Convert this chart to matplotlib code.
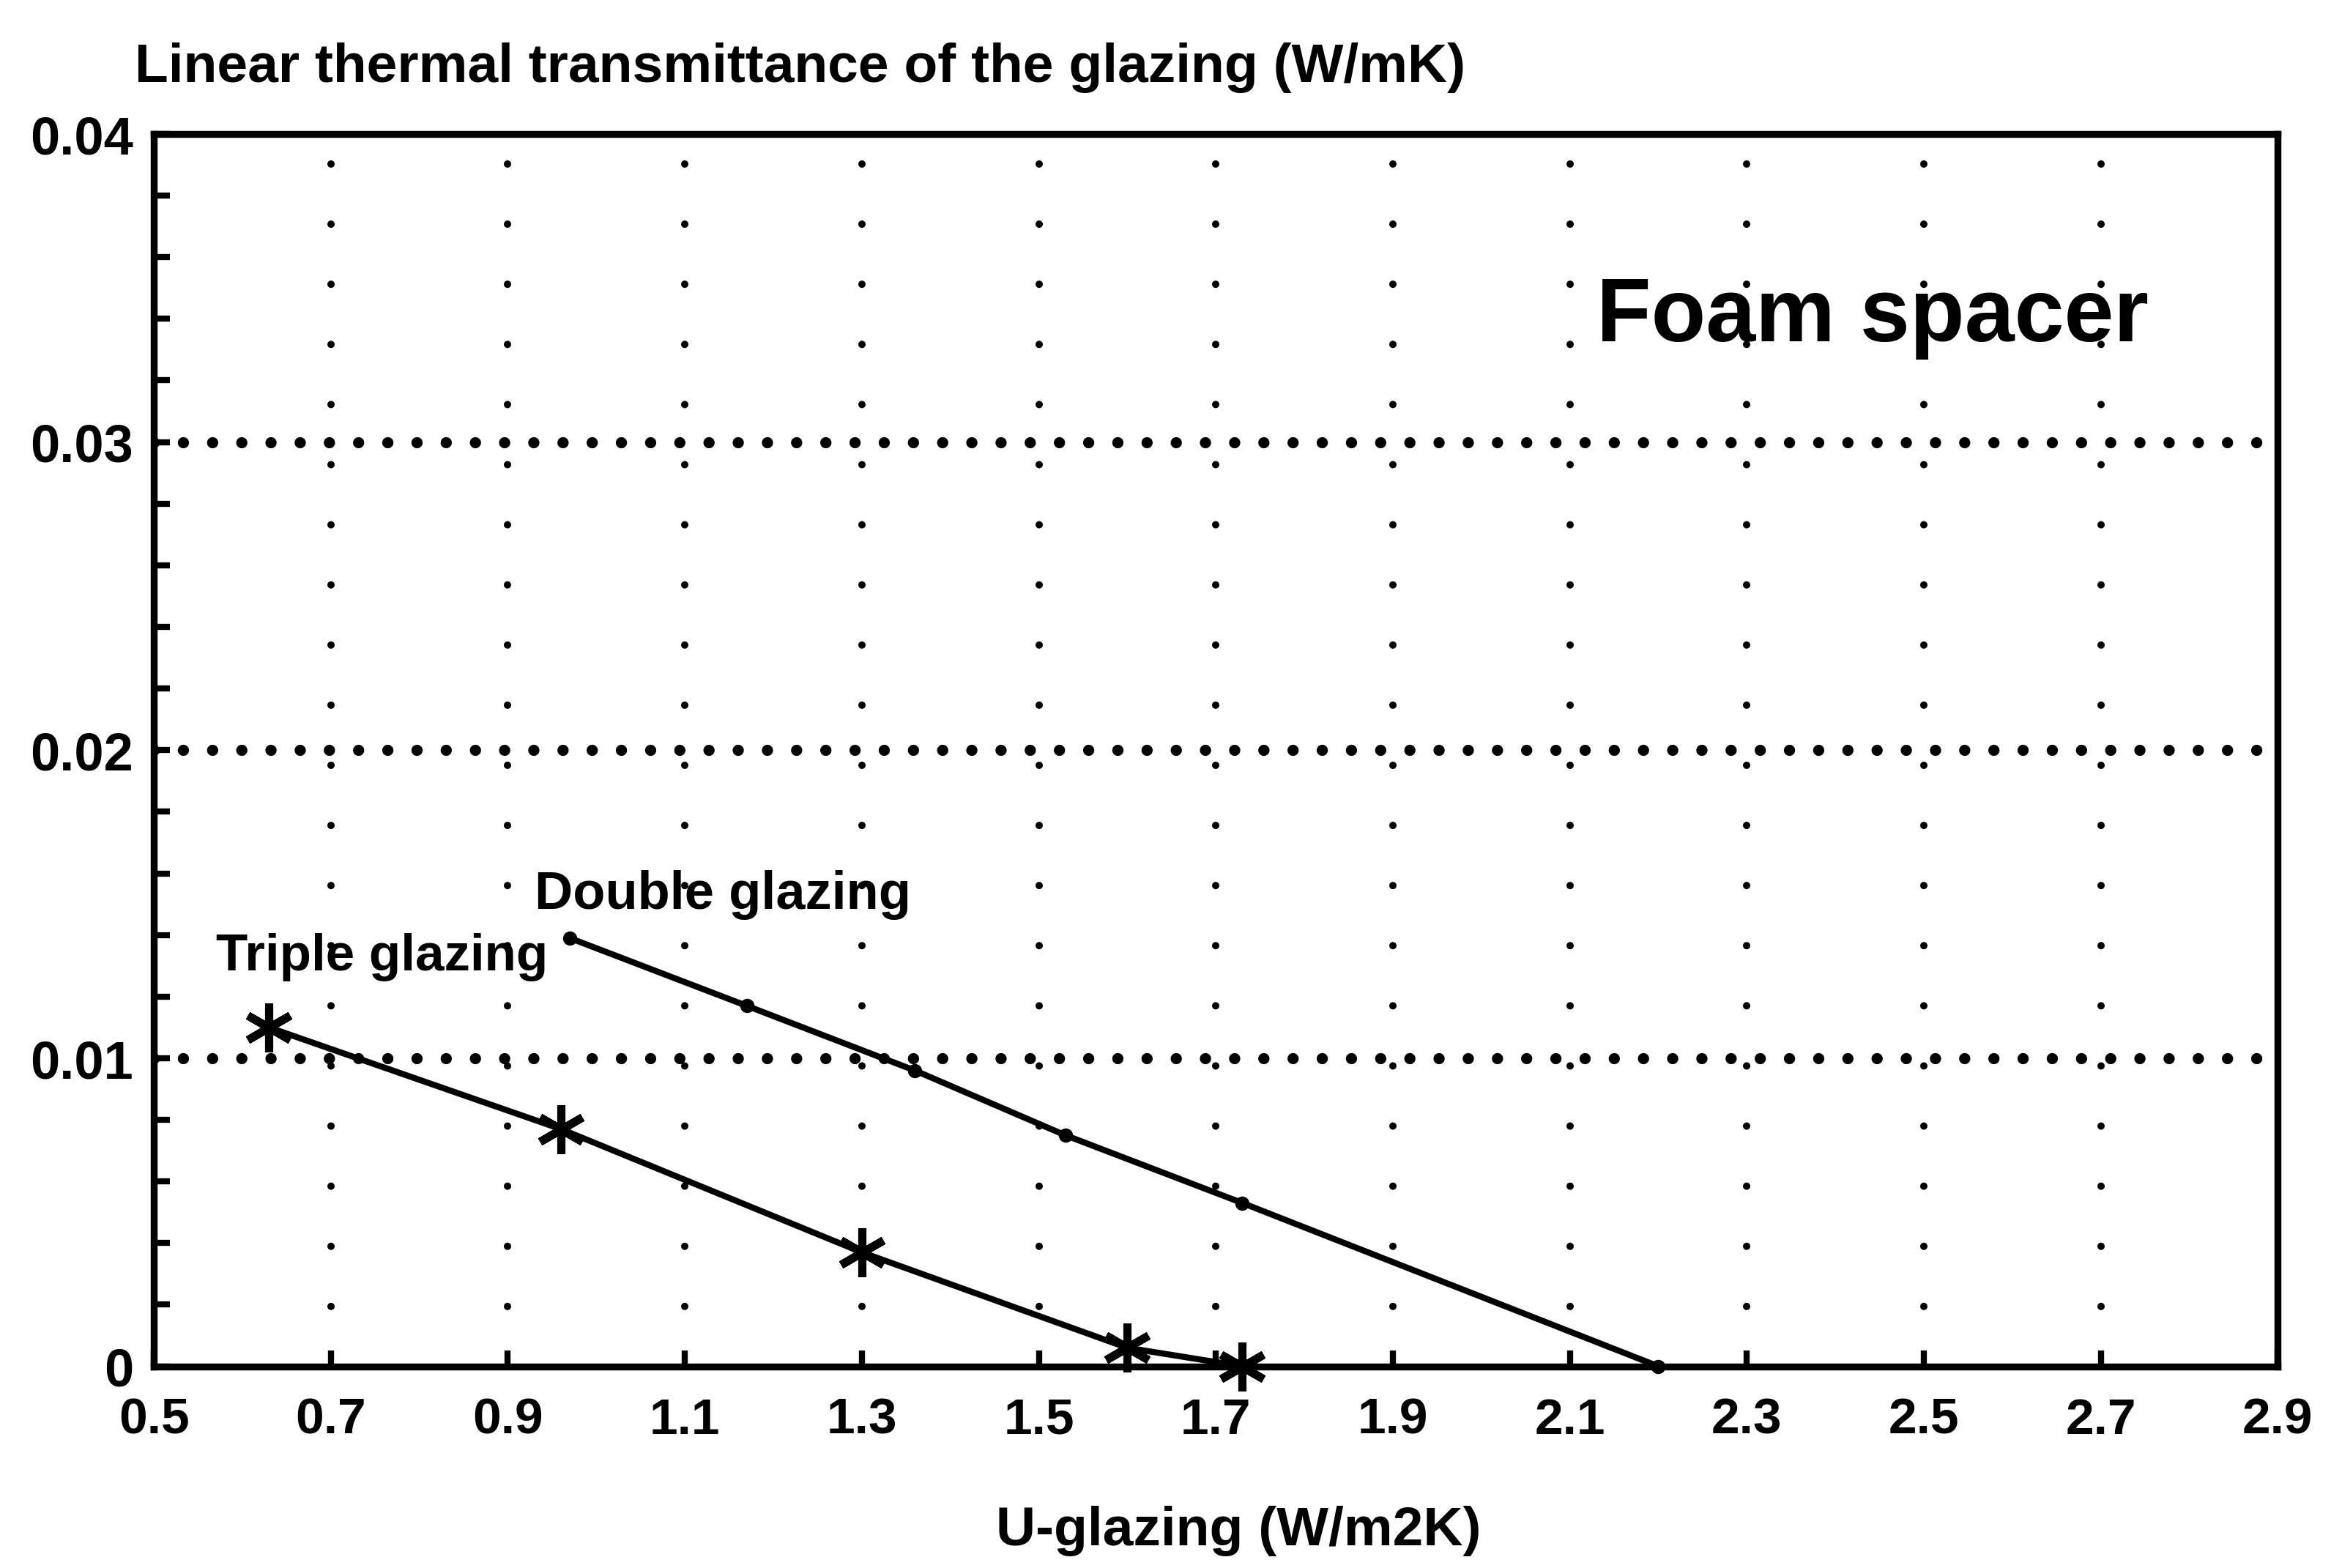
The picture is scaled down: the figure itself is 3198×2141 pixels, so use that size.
"""
Foam spacer: linear thermal transmittance of the glazing vs U-glazing
"""
import matplotlib
matplotlib.use("Agg")
import matplotlib.pyplot as plt
from matplotlib.ticker import MultipleLocator

plt.rcParams["font.family"] = ["Liberation Sans", "DejaVu Sans"]

# ── Data ──────────────────────────────────────────────────────────────────
triple_u   = [0.63, 0.96, 1.30, 1.60, 1.73]
triple_psi = [0.0110, 0.0077, 0.0037, 0.0006, 0.0]

double_u   = [0.97, 1.17, 1.36, 1.53, 1.73, 2.20]
double_psi = [0.0139, 0.0117, 0.0096, 0.0075, 0.0053, 0.0]

x_ticks = [0.5, 0.7, 0.9, 1.1, 1.3, 1.5, 1.7, 1.9, 2.1, 2.3, 2.5, 2.7, 2.9]
x_labels = ["0.5", "0.7", "0.9", "1.1", "1.3", "1.5", "1.7", "1.9",
            "2.1", "2.3", "2.5", "2.7", "2.9"]
y_ticks = [0, 0.01, 0.02, 0.03, 0.04]
y_labels = ["0", "0.01", "0.02", "0.03", "0.04"]

# ── Figure ────────────────────────────────────────────────────────────────
fig = plt.figure(figsize=(15.99, 10.708), dpi=200)
ax = fig.add_axes([0.0657, 0.1286, 0.9069, 0.7857])

# dotted grid (inner ticks only)
for xv in x_ticks[1:-1]:
    ax.axvline(xv, color="black", lw=3.6, dashes=(0.01, 8.2),
               dash_capstyle="round", zorder=1)
for yv in y_ticks[1:-1]:
    ax.axhline(yv, color="black", lw=5.5, dashes=(0.01, 2.6),
               dash_capstyle="round", zorder=1)

# series
ax.plot(triple_u, triple_psi, color="black", lw=3, marker=(6, 2, 0),
        ms=24, mew=4, zorder=3, clip_on=False)
ax.plot(double_u, double_psi, color="black", lw=3, marker="o",
        ms=6, zorder=3, clip_on=False)

ax.text(0.57, 0.0125, "Triple glazing", fontsize=25.5, fontweight="bold",
        ha="left", va="bottom")
ax.text(0.93, 0.0145, "Double glazing", fontsize=26, fontweight="bold",
        ha="left", va="bottom")
ax.text(2.13, 0.0327, "Foam spacer", fontsize=44, fontweight="bold",
        ha="left", va="bottom")

ax.set_xlim(0.5, 2.9)
ax.set_ylim(0, 0.04)
ax.set_xticks(x_ticks)
ax.set_xticklabels(x_labels, fontsize=25, fontweight="bold")
ax.set_yticks(y_ticks)
ax.set_yticklabels(y_labels, fontsize=26, fontweight="bold")
ax.yaxis.set_minor_locator(MultipleLocator(0.002))
ax.tick_params(axis="both", which="major", direction="in", length=8,
               width=3)
ax.tick_params(axis="x", which="major", pad=15)
ax.tick_params(axis="y", which="major", pad=10)
ax.tick_params(axis="y", which="minor", direction="in", length=8, width=3)
for sp in ax.spines.values():
    sp.set_linewidth(3.4)

fig.text(0.0574, 0.957, "Linear thermal transmittance of the glazing (W/mK)",
         fontsize=27, fontweight="bold", ha="left", va="center")
fig.text(0.529, 0.024, "U-glazing (W/m2K)", fontsize=27, fontweight="bold",
         ha="center", va="center")

fig.savefig("out.png", dpi=200)
